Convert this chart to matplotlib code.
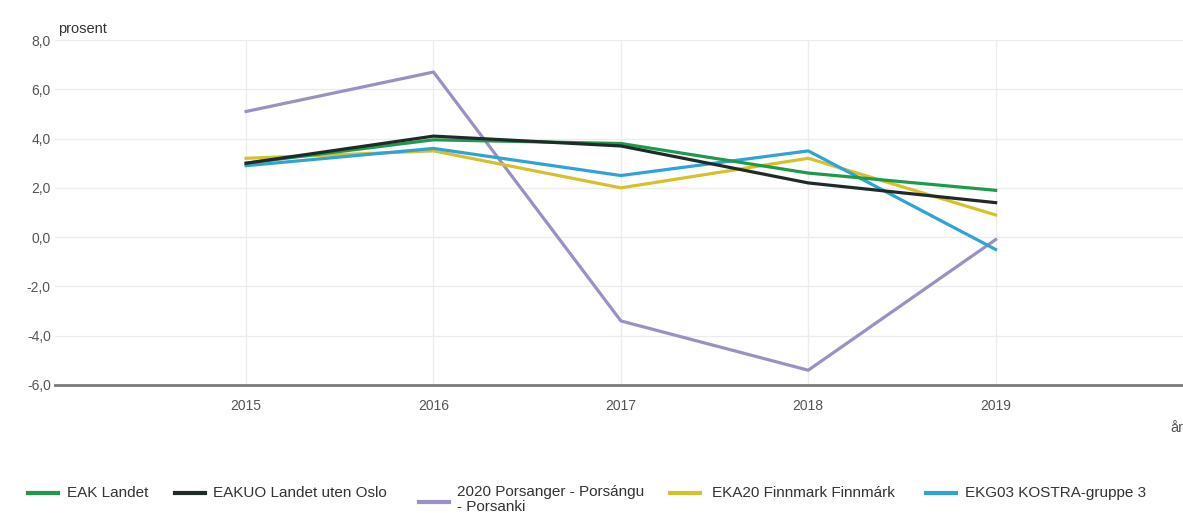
import matplotlib
matplotlib.use("Agg")
import matplotlib.pyplot as plt
from matplotlib.lines import Line2D

plt.rcParams['font.family'] = ['Liberation Sans', 'DejaVu Sans']

years = [2015, 2016, 2017, 2018, 2019]
series_names = ["EAK Landet", "EAKUO Landet uten Oslo", "2020 Porsanger - Porsángu\n- Porsanki",
                "EKA20 Finnmark Finnmárk", "EKG03 KOSTRA-gruppe 3"]
eak_landet = [3.0, 3.95, 3.8, 2.6, 1.9]
eakuo_landet_uten_oslo = [3.0, 4.1, 3.7, 2.2, 1.4]
porsanger = [5.1, 6.7, -3.4, -5.4, -0.1]
eka20_finnmark = [3.2, 3.5, 2.0, 3.2, 0.9]
ekg03_kostra3 = [2.9, 3.6, 2.5, 3.5, -0.5]
y_ticks = [-6, -4, -2, 0, 2, 4, 6, 8]

values = [eak_landet, eakuo_landet_uten_oslo, porsanger, eka20_finnmark, ekg03_kostra3]
colors = ["#1e9a4e", "#1f2b29", "#9c90c2", "#d6c12a", "#2fa3d6"]
order = [2, 3, 4, 0, 1]  # drawing order

W, H = 1183, 513
fig = plt.figure(figsize=(W / 100, H / 100), dpi=100)
ax = fig.add_axes([55 / W, 1 - 385 / H, 1 - 55 / W, (385 - 40) / H])

for i in order:
    ax.plot(years, values[i], color=colors[i], lw=2.3, solid_joinstyle="round", zorder=3)

ax.set_xlim(2013.98, 2020.0)
ax.set_ylim(-6, 8)
ax.set_xticks(years)
ax.set_xticklabels([str(y) for y in years])
ax.set_yticks(y_ticks)
ax.set_yticklabels([f"{v:.1f}".replace(".", ",") for v in y_ticks])
ax.grid(True, color="#ececec", lw=1)
ax.set_axisbelow(True)
for s in ["top", "right", "left"]:
    ax.spines[s].set_visible(False)
ax.spines["bottom"].set_color("#7a7a7a")
ax.spines["bottom"].set_linewidth(2)
ax.tick_params(axis="both", length=0, labelsize=10, colors="#555555")
ax.tick_params(axis="x", pad=10)
ax.tick_params(axis="y", pad=3)

fig.text(58 / W, 1 - 29 / H, "prosent", fontsize=10.5, color="#333333", ha="left", va="center")
fig.text(1170 / W, 1 - 428 / H, "år", fontsize=10.5, color="#555555", ha="left", va="center")

# manual legend
handle_x = [28, 175, 419, 670, 926]
text_x = [67, 213, 457, 712, 965]
ly = 1 - 493 / H
for i in range(5):
    hy = ly if i != 2 else 1 - 502 / H
    fig.add_artist(Line2D([handle_x[i] / W, (handle_x[i] + 30) / W], [hy, hy],
                          color=colors[i], lw=3, transform=fig.transFigure))
    if i == 2:
        fig.text(text_x[i] / W, 1 - 485 / H, series_names[i], fontsize=11, color="#333333",
                 ha="left", va="top", linespacing=1.05)
    else:
        fig.text(text_x[i] / W, ly, series_names[i], fontsize=11, color="#333333",
                 ha="left", va="center")

fig.savefig("out.png", dpi=100, facecolor="white")
